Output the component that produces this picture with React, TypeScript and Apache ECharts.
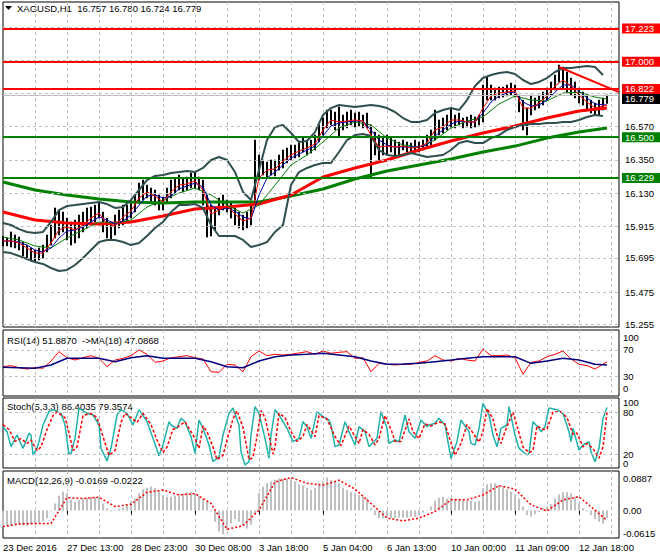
import React, { useEffect, useRef } from "react";
import * as echarts from "echarts";

// ---------------- data ----------------
const SYMBOL = "XAGUSD,H1";
const LAST_OHLC = [16.757, 16.78, 16.724, 16.779];
const TIME_LABELS = [
  "23 Dec 2016", "27 Dec 13:00", "28 Dec 23:00", "30 Dec 08:00", "3 Jan 18:00",
  "5 Jan 04:00", "6 Jan 13:00", "10 Jan 00:00", "11 Jan 09:00", "12 Jan 18:00",
];
const SLOT_COUNT = 309; // hourly bar slots on the time axis
const LABEL_EVERY = 32;
const GRID_EVERY = 16;
const BAR_STEP = 2;

const PRICE_MIN = 15.242;
const PRICE_MAX = 17.396;
const PRICE_TICKS = [15.255, 15.475, 15.695, 15.915, 16.13, 16.35, 16.57, 16.79, 17.01, 17.23];
const RESISTANCE = [17.223, 17.0, 16.822];
const SUPPORT = [16.5, 16.229];
const TREND_LINE = [[278, 16.965], [308, 16.799]];

const highs = [
  15.845, 15.832, 15.872, 15.852, 15.838, 15.805, 15.785, 15.766, 15.752, 15.766,
  15.785, 15.852, 15.918, 16.031, 16.017, 16.004, 15.964, 15.938, 15.951, 15.984,
  16.004, 16.031, 16.037, 16.05, 16.064, 16.004, 15.964, 15.938, 15.984, 16.017,
  16.05, 16.05, 16.084, 16.117, 16.196, 16.216, 16.183, 16.163, 16.15, 16.117,
  16.103, 16.163, 16.216, 16.229, 16.249, 16.229, 16.236, 16.263, 16.269, 16.236,
  16.216, 16.117, 16.05, 16.031, 16.097, 16.117, 16.084, 16.064, 16.031, 16.004,
  15.984, 16.004, 16.05, 16.481, 16.382, 16.349, 16.335, 16.349, 16.349, 16.382,
  16.415, 16.428, 16.448, 16.448, 16.461, 16.494, 16.481, 16.481, 16.514, 16.581,
  16.627, 16.68, 16.68, 16.667, 16.7, 16.647, 16.667, 16.68, 16.66, 16.667,
  16.647, 16.66, 16.581, 16.534, 16.514, 16.494, 16.514, 16.494, 16.481, 16.468,
  16.481, 16.468, 16.461, 16.481, 16.468, 16.481, 16.514, 16.548, 16.68, 16.614,
  16.627, 16.647, 16.693, 16.647, 16.66, 16.627, 16.634, 16.647, 16.634, 16.647,
  16.846, 16.899, 16.846, 16.826, 16.832, 16.832, 16.846, 16.859, 16.846, 16.779,
  16.746, 16.693, 16.779, 16.76, 16.779, 16.799, 16.826, 16.866, 16.912, 16.978,
  16.965, 16.932, 16.892, 16.866, 16.826, 16.799, 16.779, 16.746, 16.726, 16.746,
  16.76, 16.78,
];
const lows = [
  15.779, 15.779, 15.772, 15.766, 15.752, 15.713, 15.699, 15.679, 15.673, 15.686,
  15.699, 15.739, 15.785, 15.832, 15.852, 15.872, 15.819, 15.785, 15.799, 15.832,
  15.872, 15.898, 15.925, 15.938, 15.964, 15.872, 15.832, 15.819, 15.852, 15.898,
  15.918, 15.938, 15.964, 16.004, 16.064, 16.084, 16.097, 16.07, 16.05, 16.017,
  16.017, 16.064, 16.097, 16.13, 16.15, 16.137, 16.15, 16.163, 16.163, 16.15,
  16.05, 15.838, 15.845, 15.885, 15.984, 16.017, 16.004, 15.964, 15.918, 15.898,
  15.885, 15.898, 15.918, 16.084, 16.216, 16.249, 16.229, 16.249, 16.243, 16.282,
  16.296, 16.329, 16.349, 16.362, 16.369, 16.402, 16.382, 16.395, 16.415, 16.468,
  16.514, 16.561, 16.581, 16.548, 16.501, 16.548, 16.561, 16.581, 16.567, 16.574,
  16.561, 16.561, 16.229, 16.382, 16.349, 16.382, 16.382, 16.402, 16.382, 16.382,
  16.415, 16.402, 16.395, 16.402, 16.402, 16.415, 16.428, 16.448, 16.481, 16.514,
  16.528, 16.548, 16.567, 16.561, 16.581, 16.561, 16.567, 16.561, 16.567, 16.581,
  16.601, 16.746, 16.746, 16.746, 16.76, 16.766, 16.773, 16.779, 16.766, 16.667,
  16.548, 16.514, 16.647, 16.68, 16.693, 16.713, 16.746, 16.779, 16.813, 16.866,
  16.826, 16.799, 16.779, 16.76, 16.726, 16.713, 16.68, 16.66, 16.647, 16.647,
  16.68, 16.724,
];

// indicator samples (every 4 slots)
const bbUpper = [
  15.931, 15.918, 15.891, 15.872, 15.865, 15.872, 15.938, 16.017, 16.044, 16.05,
  16.057, 16.064, 16.07, 16.057, 16.031, 16.037, 16.084, 16.15, 16.216, 16.243,
  16.249, 16.263, 16.269, 16.276, 16.269, 16.296, 16.349, 16.369, 16.349, 16.269,
  16.137, 16.084, 16.282, 16.481, 16.567, 16.581, 16.528, 16.468, 16.475, 16.534,
  16.647, 16.693, 16.713, 16.707, 16.7, 16.707, 16.713, 16.707, 16.693, 16.667,
  16.627, 16.601, 16.601, 16.614, 16.66, 16.68, 16.693, 16.68, 16.746, 16.839,
  16.892, 16.912, 16.925, 16.932, 16.919, 16.879, 16.852, 16.866, 16.892, 16.932,
  16.958, 16.958, 16.965, 16.972, 16.965, 16.912,
];
const bbLower = [
  15.739, 15.732, 15.713, 15.693, 15.673, 15.66, 15.633, 15.613, 15.62, 15.653,
  15.699, 15.752, 15.805, 15.819, 15.819, 15.805, 15.785, 15.799, 15.845, 15.898,
  15.938, 16.004, 16.05, 16.05, 16.057, 16.031, 15.918, 15.845, 15.845, 15.845,
  15.819, 15.772, 15.785, 15.805, 15.872, 15.918, 16.183, 16.269, 16.296, 16.316,
  16.329, 16.329, 16.402, 16.481, 16.514, 16.521, 16.508, 16.415, 16.382, 16.375,
  16.382, 16.395, 16.382, 16.369, 16.375, 16.382, 16.415, 16.461, 16.475, 16.461,
  16.461, 16.494, 16.514, 16.548, 16.567, 16.581, 16.587, 16.587, 16.594, 16.594,
  16.601, 16.601, 16.614, 16.634, 16.647, 16.64,
];
const maFastRed = [
  15.812, 15.812, 15.799, 15.766, 15.732, 15.732, 15.799, 15.885, 15.905, 15.885,
  15.918, 15.964, 15.997, 15.925, 15.911, 15.971, 16.011, 16.097, 16.137, 16.11,
  16.07, 16.137, 16.183, 16.19, 16.21, 16.15, 15.991, 16.017, 16.044, 15.991,
  15.944, 15.964, 16.229, 16.282, 16.289, 16.342, 16.382, 16.408, 16.428, 16.455,
  16.548, 16.614, 16.601, 16.607, 16.614, 16.607, 16.514, 16.435, 16.441, 16.435,
  16.441, 16.428, 16.435, 16.461, 16.548, 16.567, 16.614, 16.614, 16.601, 16.601,
  16.693, 16.773, 16.793, 16.799, 16.806, 16.693, 16.693, 16.726, 16.773, 16.839,
  16.879, 16.839, 16.779, 16.733, 16.693, 16.713,
];
const maBlue = [
  15.812, 15.812, 15.805, 15.785, 15.752, 15.739, 15.766, 15.832, 15.878, 15.885,
  15.905, 15.938, 15.971, 15.951, 15.925, 15.944, 15.984, 16.05, 16.11, 16.117,
  16.097, 16.11, 16.157, 16.176, 16.196, 16.17, 16.05, 16.017, 16.031, 16.011,
  15.971, 15.958, 16.117, 16.229, 16.269, 16.316, 16.362, 16.388, 16.415, 16.441,
  16.508, 16.574, 16.594, 16.601, 16.607, 16.607, 16.548, 16.481, 16.448, 16.435,
  16.435, 16.435, 16.435, 16.448, 16.508, 16.548, 16.587, 16.607, 16.601, 16.601,
  16.66, 16.733, 16.773, 16.793, 16.799, 16.733, 16.707, 16.713, 16.746, 16.799,
  16.846, 16.846, 16.806, 16.76, 16.72, 16.713,
];
// every 8 slots (+ last bar)
const maGreenThin = [
  15.838, 15.819, 15.779, 15.766, 15.832, 15.885, 15.938, 15.931, 15.951, 16.037,
  16.084, 16.13, 16.163, 16.117, 16.05, 15.997, 16.05, 16.183, 16.316, 16.382,
  16.468, 16.561, 16.601, 16.581, 16.494, 16.448, 16.435, 16.481, 16.561, 16.607,
  16.634, 16.72, 16.773, 16.746, 16.74, 16.793, 16.799, 16.766, 16.753,
];
// every 16 slots (+ last bar)
const ma100Red = [
  16.004, 15.951, 15.931, 15.925, 15.938, 15.978, 16.024, 16.037, 16.057, 16.117,
  16.236, 16.296, 16.349, 16.415, 16.475, 16.528, 16.574, 16.627, 16.673, 16.693,
];
const ma200Green = [
  16.203, 16.15, 16.117, 16.09, 16.07, 16.064, 16.07, 16.07, 16.07, 16.11,
  16.157, 16.223, 16.276, 16.316, 16.355, 16.402, 16.441, 16.494, 16.534, 16.561,
];

// RSI (every 4 slots, last at last bar)
const rsi = [
  44.4, 46.0, 42.9, 40.9, 42.9, 42.0, 53.0, 67.2, 58.0, 54.5,
  58.0, 61.1, 57.1, 44.4, 54.5, 57.1, 61.1, 69.7, 63.2, 51.0,
  53.0, 58.0, 59.5, 61.1, 58.0, 56.1, 36.8, 35.8, 48.0, 47.0,
  36.8, 59.5, 68.2, 61.1, 63.2, 62.1, 63.2, 65.2, 67.2, 63.2,
  68.2, 64.7, 66.2, 67.2, 57.1, 58.0, 36.8, 49.5, 48.0, 47.0,
  48.0, 48.0, 51.0, 53.0, 61.1, 54.5, 53.0, 57.1, 54.5, 53.0,
  71.2, 61.1, 61.1, 62.1, 58.0, 32.9, 51.0, 53.0, 59.5, 63.2,
  68.2, 56.1, 48.0, 46.0, 40.9, 51.887,
];
// RSI MA (every 8 slots, last at last bar)
const rsiMa = [
  43.5, 42.9, 42.0, 47.0, 57.1, 57.1, 57.1, 52.0, 58.0, 61.1,
  57.1, 57.1, 57.1, 52.0, 44.4, 42.9, 53.0, 59.5, 62.1, 63.2,
  64.7, 62.1, 59.5, 53.0, 48.0, 48.5, 49.5, 52.0, 54.5, 57.1,
  59.5, 59.5, 59.5, 49.5, 53.0, 57.1, 54.5, 48.0, 47.0868,
];
const RSI_RANGE = [0, 100];
const RSI_LEVELS = [30, 70];

// Stochastic [slot, value]
const stochMain = [
  [0, 59.0], [2, 51.9], [4, 30.5], [7, 47.1], [10, 28.1], [13, 49.5], [14, 47.1], [15, 18.6], [17, 28.1], [18, 37.6],
  [20, 61.4], [23, 80.5], [25, 83.3], [29, 78.1], [31, 61.4], [33, 19.5], [34, 21.0], [36, 42.4], [38, 85.7], [42, 78.1],
  [45, 75.7], [48, 61.4], [49, 28.1], [52, 10.0], [54, 28.1], [57, 75.7], [59, 83.3], [62, 78.1], [65, 61.4], [68, 83.3],
  [72, 66.2], [75, 42.4], [78, 17.6], [80, 32.9], [83, 66.2], [84, 61.4], [87, 56.7], [89, 71.0], [91, 66.2], [93, 51.9],
  [94, 44.8], [96, 21.0], [98, 68.6], [100, 56.7], [103, 32.9], [105, 9.0], [108, 16.2], [110, 47.1], [113, 78.1], [115, 85.7],
  [118, 61.4], [119, 23.3], [121, 4.3], [123, 9.0], [124, 47.1], [126, 87.6], [128, 78.1], [131, 42.4], [133, 13.8], [134, 47.1],
  [136, 83.3], [138, 75.7], [142, 56.7], [145, 37.6], [148, 42.4], [150, 66.2], [152, 59.0], [154, 42.4], [157, 80.5], [160, 73.3],
  [163, 68.6], [164, 61.4], [166, 30.5], [168, 32.9], [171, 66.2], [173, 51.9], [176, 32.9], [178, 59.0], [181, 51.9], [183, 30.5],
  [187, 42.4], [189, 80.5], [192, 56.7], [193, 35.2], [196, 40.0], [198, 37.6], [201, 75.7], [203, 51.9], [206, 42.4], [209, 68.6],
  [212, 59.0], [213, 61.4], [216, 63.8], [218, 71.0], [221, 61.4], [224, 13.8], [227, 37.6], [229, 68.6], [233, 51.9], [234, 35.2],
  [236, 32.9], [238, 56.7], [240, 92.4], [243, 75.7], [245, 47.1], [247, 30.5], [249, 56.7], [252, 61.4], [253, 87.6], [256, 47.1],
  [258, 28.1], [262, 18.6], [263, 21.0], [265, 66.2], [268, 56.7], [269, 51.9], [271, 59.0], [273, 85.7], [277, 83.3], [280, 78.1],
  [283, 51.9], [284, 37.6], [285, 56.7], [288, 25.7], [290, 32.9], [293, 37.6], [294, 23.3], [296, 9.0], [298, 28.1], [300, 71.0],
  [302, 86.4035],
];
const stochSignal = [
  [0, 62], [3, 55], [6, 38], [9, 42], [12, 35], [14, 40], [17, 25], [19, 30], [22, 55], [25, 75],
  [27, 80], [31, 72], [33, 50], [35, 25], [37, 30], [40, 75], [44, 78], [47, 72], [50, 45], [53, 18],
  [56, 25], [59, 65], [61, 78], [64, 72], [67, 65], [70, 78], [74, 62], [77, 40], [80, 22], [82, 30],
  [85, 55], [87, 58], [91, 66], [94, 52], [96, 42], [98, 28], [100, 60], [102, 52], [105, 30], [107, 12],
  [110, 18], [112, 40], [115, 70], [117, 82], [120, 58], [123, 12], [125, 15], [127, 45], [129, 82], [131, 72],
  [135, 20], [136, 30], [138, 78], [141, 72], [144, 52], [147, 38], [150, 45], [152, 62], [156, 45], [158, 75],
  [162, 70], [166, 45], [169, 32], [173, 60], [175, 50], [178, 35], [180, 55], [183, 48], [186, 33], [188, 42],
  [191, 75], [194, 55], [196, 38], [199, 38], [203, 70], [205, 52], [208, 42], [211, 63], [214, 60], [218, 66],
  [221, 63], [223, 45], [226, 18], [229, 35], [232, 62], [235, 50], [238, 37], [240, 52], [242, 85], [245, 70],
  [247, 47], [249, 35], [251, 52], [255, 80], [258, 50], [260, 30], [263, 22], [265, 25], [267, 60], [270, 55],
  [272, 56], [275, 80], [279, 80], [282, 72], [285, 48], [287, 50], [290, 30], [292, 35], [295, 28], [298, 14],
  [300, 30], [302, 79.3574],
];
const STOCH_RANGE = [0, 100];
const STOCH_LEVELS = [20, 80];

// MACD histogram (every 2 slots) and signal (every 8 slots, last at last bar)
const macdHist = [
  -0.036, -0.035, -0.034, -0.032, -0.032, -0.034, -0.034, -0.032, -0.029, -0.027,
  -0.024, -0.017, -0.002, 0.016, 0.033, 0.042, 0.039, 0.024, 0.02, 0.024,
  0.027, 0.029, 0.031, 0.031, 0.029, 0.016, 0.005, -0.002, -0.001, 0.004,
  0.007, 0.013, 0.02, 0.027, 0.039, 0.048, 0.051, 0.054, 0.051, 0.044,
  0.033, 0.031, 0.031, 0.033, 0.036, 0.039, 0.041, 0.042, 0.039, 0.033,
  0.027, 0.02, -0.002, -0.025, -0.047, -0.053, -0.044, -0.029, -0.019, -0.025,
  -0.034, -0.04, -0.032, -0.006, 0.039, 0.054, 0.061, 0.065, 0.069, 0.072,
  0.072, 0.072, 0.071, 0.066, 0.059, 0.056, 0.051, 0.046, 0.051, 0.061,
  0.066, 0.074, 0.069, 0.066, 0.061, 0.051, 0.046, 0.042, 0.039, 0.035,
  0.031, 0.027, 0.005, -0.01, -0.017, -0.017, -0.016, -0.017, -0.016, -0.016,
  -0.016, -0.016, -0.014, -0.014, -0.01, -0.004, 0.001, 0.009, 0.022, 0.029,
  0.031, 0.027, 0.029, 0.027, 0.026, 0.024, 0.022, 0.022, 0.019, 0.022,
  0.05, 0.059, 0.061, 0.061, 0.057, 0.054, 0.048, 0.042, 0.036, 0.027,
  0.009, -0.01, -0.014, -0.008, -0.004, 0.005, 0.009, 0.014, 0.027, 0.036,
  0.041, 0.041, 0.039, 0.031, 0.016, 0.005, -0.002, -0.01, -0.019, -0.025,
  -0.029, -0.0169,
];
const macdSignal = [
  -0.036, -0.03, -0.029, -0.029, 0.029, 0.027, 0.03, 0.009, 0.014, 0.041,
  0.046, 0.035, 0.038, 0.016, -0.042, -0.034, 0.001, 0.064, 0.074, 0.061,
  0.057, 0.068, 0.048, 0.016, -0.017, -0.023, -0.017, -0.002, 0.024, 0.024,
  0.035, 0.056, 0.048, 0.013, -0.001, 0.024, 0.031, 0.001, -0.0222,
];
const MACD_RANGE = [-0.0615, 0.0887];
const MACD_ZERO = [0];

// ---------------- helpers ----------------
const LAST_SLOT = (highs.length - 1) * BAR_STEP;
const sampled = (vals: number[], step: number, lastAtEnd = false) =>
  vals.map((v, i) => [lastAtEnd && i === vals.length - 1 ? LAST_SLOT : i * step, v]);

const FONT = '"Liberation Sans", Arial, sans-serif';
const FS = 9.5;
const GRID_COLOR = "#C0C0C0";
const DASH = [3, 3];
const slots = Array.from({ length: SLOT_COUNT }, (_, i) => String(i));

export default function App() {
  const ref = useRef<HTMLDivElement>(null);

  useEffect(() => {
    document.body.style.margin = "0";
    const chart = echarts.init(ref.current!, null, { renderer: "svg" });

    const candleData: any[] = slots.map(() => ["-", "-", "-", "-"]);
    highs.forEach((h, j) => {
      candleData[j * BAR_STEP] = [lows[j], h, lows[j], h];
    });

    const xAxis = (gridIndex: number, showLabels: boolean) => ({
      type: "category",
      gridIndex,
      data: slots,
      boundaryGap: false,
      axisLine: { show: false },
      axisTick: {
        show: showLabels,
        interval: (i: number) => i % LABEL_EVERY === 0,
        length: 4,
        lineStyle: { color: "#000" },
      },
      axisLabel: {
        show: showLabels,
        interval: (i: number) => i % LABEL_EVERY === 0 && i / LABEL_EVERY < TIME_LABELS.length,
        formatter: (_v: string, i: number) => TIME_LABELS[i / LABEL_EVERY] ?? "",
        align: "left",
        margin: 4,
        color: "#000",
        fontSize: FS,
        fontFamily: FONT,
      },
      splitLine: {
        show: true,
        interval: (i: number) => i > 0 && i % GRID_EVERY === 0,
        lineStyle: { color: GRID_COLOR, type: DASH, width: 1 },
      },
    });

    const hiddenY = (gridIndex: number, range: number[]) => ({
      type: "value", gridIndex, position: "right", min: range[0], max: range[1],
      axisLabel: { show: false }, axisLine: { show: false }, axisTick: { show: false }, splitLine: { show: false },
    });

    // inner scale levels of a sub window, with right-hand labels
    const levelMarks = (levels: number[], fmt: (v: number) => string, dashed: boolean) => ({
      silent: true,
      symbol: ["none", "none"],
      animation: false,
      data: levels.map((v) => ({
        yAxis: v,
        lineStyle: dashed
          ? { color: GRID_COLOR, type: DASH, width: 1 }
          : { color: "rgba(0,0,0,0)", width: 0 },
        label: {
          show: true, position: "end", distance: 4, formatter: fmt(v),
          color: "#000", fontSize: FS, lineHeight: 8, fontFamily: FONT,
        },
      })),
    });

    const gridBox = { left: 3, width: 616, show: true, borderColor: "#000", borderWidth: 1 };

    const lineS = (data: any[], color: string, width: number, xi: number, extra: any = {}) => ({
      type: "line",
      xAxisIndex: xi,
      yAxisIndex: xi,
      data,
      showSymbol: false,
      symbol: "none",
      silent: true,
      connectNulls: true,
      lineStyle: { color, width },
      ...extra,
    });

    const boxLabel = (v: number, bg: string, dy = 0) => ({
      show: true,
      position: "end",
      distance: 3,
      offset: [0, dy],
      formatter: v.toFixed(3),
      color: "#fff",
      backgroundColor: bg,
      padding: [0, 6, 0, 3],
      lineHeight: 10,
      fontSize: FS,
      fontFamily: FONT,
    });

    const titleText = (x: number, y: number, text: string) => ({
      type: "text", x, y,
      style: { text, fill: "#000", fontSize: FS, fontFamily: FONT, verticalAlign: "middle" },
    });

    const titles: any[] = [
      { type: "polygon", shape: { points: [[5, 6], [12, 6], [8.5, 10]] }, style: { fill: "#000" } },
      titleText(17, 8.5, `${SYMBOL}  ${LAST_OHLC.map((v) => v.toFixed(3)).join(" ")}`),
      titleText(7, 340, `RSI(14) ${rsi[rsi.length - 1].toFixed(4)}  ->MA(18) ${rsiMa[rsiMa.length - 1].toFixed(4)}`),
      titleText(7, 406.5, `Stoch(5,3,3) ${stochMain[stochMain.length - 1][1].toFixed(4)} ${stochSignal[stochSignal.length - 1][1].toFixed(4)}`),
      titleText(7, 480, `MACD(12,26,9) ${macdHist[macdHist.length - 1].toFixed(4)} ${macdSignal[macdSignal.length - 1].toFixed(4)}`),
    ];

    const option: any = {
      animation: false,
      backgroundColor: "#fff",
      grid: [
        { ...gridBox, top: 2, height: 325 },
        { ...gridBox, top: 330, height: 66 },
        { ...gridBox, top: 398, height: 70 },
        { ...gridBox, top: 471, height: 67 },
      ],
      xAxis: [xAxis(0, false), xAxis(1, false), xAxis(2, false), xAxis(3, true)],
      yAxis: [
        hiddenY(0, [PRICE_MIN, PRICE_MAX]),
        hiddenY(1, RSI_RANGE),
        hiddenY(2, STOCH_RANGE),
        hiddenY(3, MACD_RANGE),
      ],
      series: [
        {
          type: "candlestick",
          xAxisIndex: 0,
          yAxisIndex: 0,
          data: candleData,
          barWidth: 1.5,
          silent: true,
          itemStyle: {
            color: "#000", color0: "#000", borderColor: "#000", borderColor0: "#000",
            borderColorDoji: "#000", borderWidth: 1,
          },
          markLine: {
            silent: true,
            symbol: ["none", "none"],
            animation: false,
            lineStyle: { color: GRID_COLOR, type: DASH, width: 1 },
            data: PRICE_TICKS.map((v) => ({
              yAxis: v,
              label: {
                show: v < 16.7, position: "end", distance: 6, formatter: v.toFixed(3),
                color: "#000", fontSize: FS, fontFamily: FONT,
              },
            })),
          },
        },
        lineS(sampled(ma200Green, 16, true), "#008000", 3, 0, {
          markLine: {
            silent: true,
            symbol: ["none", "none"],
            animation: false,
            data: [
              ...RESISTANCE.map((v) => ({
                yAxis: v, lineStyle: { color: "#FF0000", width: 2, type: "solid" }, label: boxLabel(v, "#FF0000"),
              })),
              ...SUPPORT.map((v) => ({
                yAxis: v, lineStyle: { color: "#008000", width: 2, type: "solid" }, label: boxLabel(v, "#008000"),
              })),
              {
                yAxis: LAST_OHLC[3], lineStyle: { color: "#C0C0C0", width: 1, type: "solid" },
                label: boxLabel(LAST_OHLC[3], "#000", 4),
              },
              [
                { coord: TREND_LINE[0], lineStyle: { color: "#FF0000", width: 2, type: "solid" }, label: { show: false } },
                { coord: TREND_LINE[1] },
              ],
            ],
          },
        }),
        lineS(sampled(ma100Red, 16, true), "#FF0000", 3, 0),
        lineS(sampled(bbUpper, 4), "#2F4F4F", 2, 0),
        lineS(sampled(bbLower, 4), "#2F4F4F", 2, 0),
        lineS(sampled(maGreenThin, 8, true), "#008000", 1, 0),
        lineS(sampled(maBlue, 4, true), "#0000B0", 1, 0),
        lineS(sampled(maFastRed, 4, true), "#FF0000", 1, 0),

        lineS(sampled(rsi, 4, true), "#FF0000", 1, 1, { markLine: levelMarks(RSI_LEVELS, (v) => String(v), true) }),
        lineS(sampled(rsiMa, 8, true), "#000080", 1.5, 1),

        lineS(stochMain, "#20B2AA", 1.5, 2, { markLine: levelMarks(STOCH_LEVELS, (v) => String(v), true) }),
        lineS(stochSignal, "#FF0000", 1.5, 2, { lineStyle: { color: "#FF0000", width: 1.5, type: [3, 2] } }),

        {
          type: "bar",
          xAxisIndex: 3,
          yAxisIndex: 3,
          data: sampled(macdHist, BAR_STEP),
          barWidth: 2,
          silent: true,
          itemStyle: { color: "#C0C0C0" },
          markLine: levelMarks(MACD_ZERO, () => "0.00", false),
        },
        lineS(sampled(macdSignal, 8, true), "#FF0000", 1.5, 3, { lineStyle: { color: "#FF0000", width: 1.5, type: [2, 2] } }),
      ],
      graphic: titles,
    };

    chart.setOption(option);

    // min / max labels of each sub window, placed through the axes' own scales
    const edgeSpecs = [
      { axis: 1, range: RSI_RANGE, fmt: (v: number) => String(v), shift: [-8, 7] },
      { axis: 2, range: STOCH_RANGE, fmt: (v: number) => String(v), shift: [-4.5, 4.5] },
      { axis: 3, range: MACD_RANGE, fmt: (v: number) => v.toFixed(4), shift: [-5, 7] },
    ];
    const edgeTexts: any[] = [];
    edgeSpecs.forEach((s) => {
      const x = (chart.convertToPixel({ xAxisIndex: s.axis }, SLOT_COUNT - 1) as number) + 4;
      s.range.forEach((v, i) => {
        const y = (chart.convertToPixel({ yAxisIndex: s.axis }, v) as number) + s.shift[i];
        edgeTexts.push(titleText(x, y, s.fmt(v)));
      });
    });
    chart.setOption({ graphic: [...titles, ...edgeTexts] });

    return () => chart.dispose();
  }, []);

  return (
    <div
      ref={ref}
      style={{ position: "fixed", left: 0, top: 0, width: 660, height: 560, background: "#fff" }}
    />
  );
}
